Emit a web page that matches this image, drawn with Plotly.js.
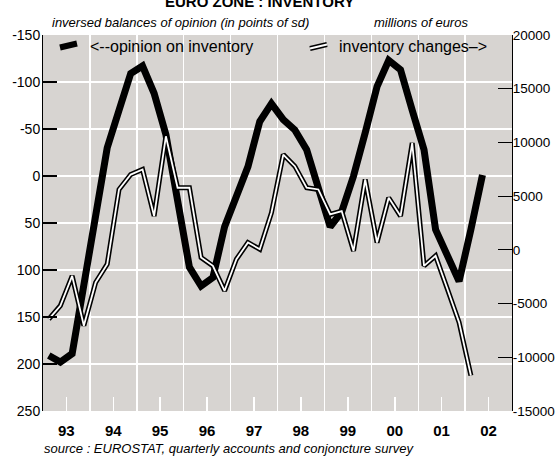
<!DOCTYPE html>
<html>
<head>
<meta charset="utf-8">
<script src="https://cdn.plot.ly/plotly-3.0.1.min.js"></script>
<style>
  body { margin: 0; background: #fff; }
  #chart { width: 557px; height: 466px; }
</style>
</head>
<body>
<div id="chart"></div>
<script>
// quarters 1993Q1 .. 2002Q2
var quarters = [];
for (var yr = 1993; yr <= 2002; yr++) {
  ['02-15', '05-16', '08-16', '11-15'].forEach(function (md) { quarters.push(yr + '-' + md); });
}
quarters = quarters.slice(0, 38);

// inversed balances of opinion (left axis)
var opinion = [191, 198, 189, 115, 48, -30, -70, -109, -117, -88,
               -44, 28, 97, 117, 108, 54, 22, -10, -58, -77,
               -60, -49, -28, 14, 54, 38, 0, -46, -95, -123,
               -113, -70, -28, 57, 85, 112, 57, -1];

// inventory changes, millions of euros (right axis)
var inventory = [-6440, -5200, -2420, -7060, -3030, -1335, 5620, 7010, 7480, 3150,
                 10570, 5780, 5780, -710, -1490, -3810, -870, 680, 60, 3460,
                 8870, 7790, 5780, 5620, 3300, 3610, -100, 6550, 680, 4850,
                 3150, 9950, -1490, -560, -3650, -6750, -11700];

var yearLabels = ['93', '94', '95', '96', '97', '98', '99', '00', '01', '02'];
var yearMids = ['1993-07-02', '1994-07-02', '1995-07-02', '1996-07-02', '1997-07-02',
                '1998-07-02', '1999-07-02', '2000-07-02', '2001-07-02', '2002-07-02'];
var leftTicks = [-150, -100, -50, 0, 50, 100, 150, 200, 250];
var leftText = ['-150', '-100', '-50', '0', '50', '100', '150', '200', '250'];
var rightTicks = [-15000, -10000, -5000, 0, 5000, 10000, 15000, 20000];
var rightText = ['-15000', '-10000', '-5000', '0', '5000', '10000', '15000', '20000'];

// pixel helpers for the decorations (plot area 43..512 x 35..411)
function px(x) { return (x - 43) / 469; }
function py(y) { return (411 - y) / 376; }

var font = 'Liberation Sans, Arial, sans-serif';

var data = [
  {
    x: quarters.slice(0, opinion.length), y: opinion, type: 'scatter', mode: 'lines',
    line: {color: '#000', width: 7}, hoverinfo: 'skip'
  },
  {
    x: quarters.slice(0, inventory.length), y: inventory, yaxis: 'y2', type: 'scatter', mode: 'lines',
    line: {color: '#000', width: 5}, hoverinfo: 'skip'
  },
  {
    x: quarters.slice(0, inventory.length), y: inventory, yaxis: 'y2', type: 'scatter', mode: 'lines',
    line: {color: '#fff', width: 1.8}, hoverinfo: 'skip'
  }
];

var layout = {
  width: 557,
  height: 466,
  margin: {l: 43, r: 45, t: 35, b: 55},
  paper_bgcolor: '#fff',
  plot_bgcolor: '#d7d4d1',
  showlegend: false,
  font: {family: font, color: '#000'},
  xaxis: {
    type: 'date',
    range: ['1993-01-01', '2003-01-01'],
    tickmode: 'array',
    tickvals: yearMids,
    ticktext: yearLabels,
    ticks: 'inside',
    ticklen: 14,
    tickwidth: 1.5,
    tickcolor: '#fff',
    showgrid: false,
    zeroline: false,
    showline: false,
    ticklabelstandoff: 9,
    tickfont: {size: 15, family: font, weight: 'bold'},
    minor: {dtick: 'M12', tick0: '1993-01-01', showgrid: true, gridcolor: '#fff', gridwidth: 1.5, ticks: ''}
  },
  yaxis: {
    range: [250, -150],
    tickmode: 'array',
    tickvals: leftTicks,
    ticktext: leftText,
    ticks: 'inside',
    ticklen: 14,
    tickwidth: 1.2,
    tickcolor: '#000',
    showline: true,
    linecolor: '#000',
    linewidth: 1,
    showgrid: true,
    gridcolor: '#fff',
    gridwidth: 1.5,
    zeroline: false,
    ticklabelstandoff: -1,
    tickfont: {size: 14}
  },
  yaxis2: {
    overlaying: 'y',
    side: 'right',
    range: [-15000, 20000],
    tickmode: 'array',
    tickvals: rightTicks,
    ticktext: rightText,
    ticks: 'inside',
    ticklen: 14,
    tickwidth: 1.2,
    tickcolor: '#000',
    showline: true,
    linecolor: '#000',
    linewidth: 1,
    showgrid: false,
    zeroline: false,
    ticklabelstandoff: -3,
    tickfont: {size: 13.5}
  },
  shapes: [
    {type: 'line', xref: 'paper', yref: 'paper', x0: px(60), y0: py(47.5), x1: px(77), y1: py(43.5),
     line: {color: '#000', width: 6}},
    {type: 'line', xref: 'paper', yref: 'paper', x0: px(310), y0: py(48.5), x1: px(327), y1: py(44.5),
     line: {color: '#000', width: 5}},
    {type: 'line', xref: 'paper', yref: 'paper', x0: px(310), y0: py(48.5), x1: px(327), y1: py(44.5),
     line: {color: '#fff', width: 1.8}}
  ],
  annotations: [
    {text: '<b>EURO ZONE : INVENTORY</b>', xref: 'paper', yref: 'paper', x: px(259), y: py(2),
     xanchor: 'center', yanchor: 'middle', showarrow: false, font: {size: 15}},
    {text: '<i>inversed balances of opinion (in points of sd)</i>', xref: 'paper', yref: 'paper',
     x: px(50), y: py(22), xanchor: 'left', yanchor: 'middle', showarrow: false, font: {size: 13}},
    {text: '<i>millions of euros</i>', xref: 'paper', yref: 'paper',
     x: px(470), y: py(22), xanchor: 'right', yanchor: 'middle', showarrow: false, font: {size: 13}},
    {text: '&lt;--opinion on inventory', xref: 'paper', yref: 'paper',
     x: px(88), y: py(46), xanchor: 'left', yanchor: 'middle', showarrow: false, font: {size: 16}},
    {text: 'inventory changes–&gt;', xref: 'paper', yref: 'paper',
     x: px(337), y: py(46), xanchor: 'left', yanchor: 'middle', showarrow: false, font: {size: 16}},
    {text: '<i>source : EUROSTAT, quarterly accounts and conjoncture survey</i>', xref: 'paper', yref: 'paper',
     x: px(42), y: py(449), xanchor: 'left', yanchor: 'middle', showarrow: false, font: {size: 13}}
  ]
};

Plotly.newPlot('chart', data, layout, {staticPlot: true, displayModeBar: false});
</script>
</body>
</html>
